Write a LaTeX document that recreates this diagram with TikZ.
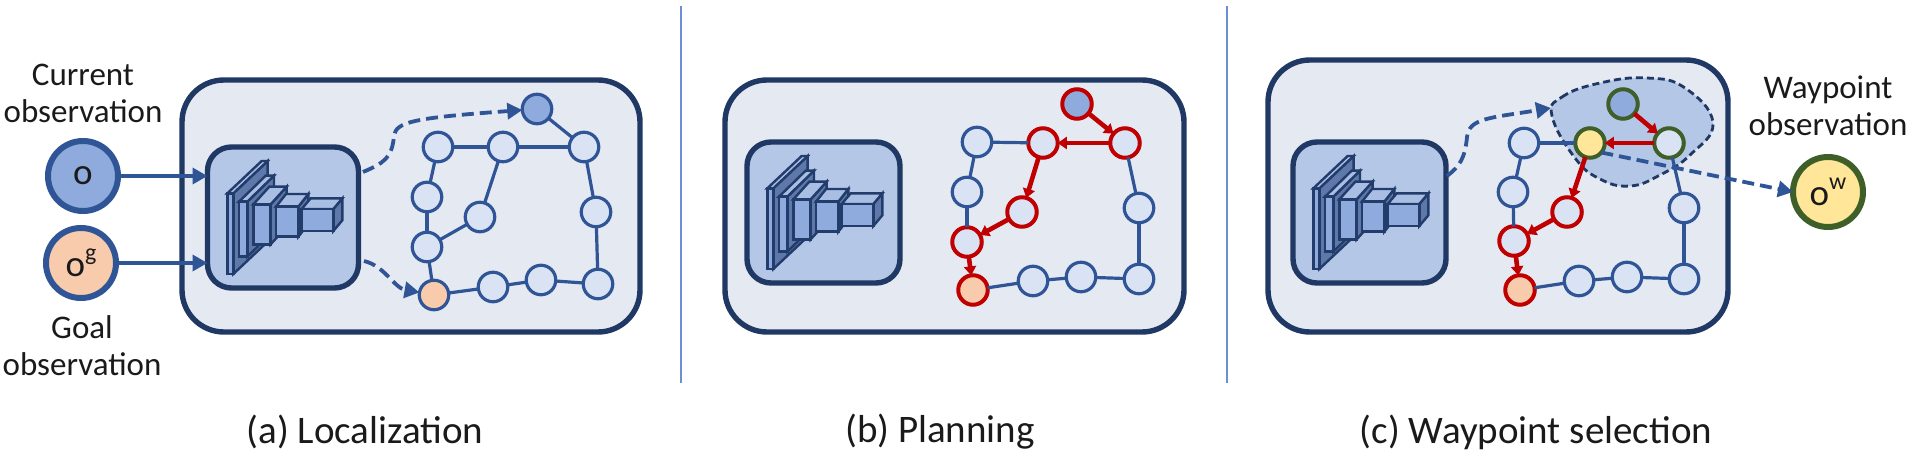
\documentclass[tikz,border=0pt]{standalone}
\usepackage{fontspec}
\setmainfont{Carlito}
\usetikzlibrary{arrows.meta}
\definecolor{navy}{HTML}{203864}
\definecolor{midblue}{HTML}{2F5597}
\definecolor{panelfill}{HTML}{E5E9F2}
\definecolor{netfill}{HTML}{B4C7E7}
\definecolor{nodefill}{HTML}{DAE3F3}
\definecolor{obsblue}{HTML}{8FAADC}
\definecolor{obsorange}{HTML}{F8CBAD}
\definecolor{obsyellow}{HTML}{FFE699}
\definecolor{redline}{HTML}{C00000}
\definecolor{greenline}{HTML}{3F5F28}
\definecolor{divider}{HTML}{6C8FD3}
\definecolor{sideface}{HTML}{5D78A9}
\definecolor{topface}{HTML}{A9BEE3}
\definecolor{textdark}{HTML}{1A1A1A}
\tikzset{
  panel/.style={draw=navy,line width=5.4pt,fill=panelfill,rounded corners=42pt,inner sep=0pt,outer sep=0pt},
  netbox/.style={draw=navy,line width=5.4pt,fill=netfill,rounded corners=24pt,inner sep=0pt,outer sep=0pt},
  gn/.style={circle,draw=midblue,line width=3.2pt,fill=nodefill,minimum size=29.5pt,inner sep=0pt,outer sep=0pt},
  rn/.style={gn,draw=redline,line width=4pt},
  gr/.style={gn,draw=greenline,line width=4pt},
  obs/.style={circle,draw=midblue,line width=6pt,minimum size=70pt,inner sep=0pt,outer sep=0pt,text=textdark,font=\fontsize{37}{37}\selectfont},
  gedge/.style={draw=midblue,line width=3.2pt},
  redge/.style={draw=redline,line width=4.6pt,-{Triangle[length=9pt,width=12pt]}},
  sarrow/.style={draw=midblue,line width=3.6pt,-{Triangle[length=15pt,width=16pt]}},
  darrow/.style={draw=midblue,line width=3.8pt,dash pattern=on 12pt off 6pt,-{Triangle[length=15pt,width=16pt]}},
  lab/.style={align=center,text=textdark,inner sep=0pt,font=\fontsize{33}{37}\selectfont},
  captext/.style={text=textdark,inner sep=0pt,font=\fontsize{39}{42}\selectfont},
  facefront/.style={draw=navy!85!midblue,line width=2.4pt,fill=obsblue},
  facetop/.style={draw=navy!85!midblue,line width=2.4pt,fill=topface},
  faceside/.style={draw=navy!85!midblue,line width=2.4pt,fill=sideface},
}
\newcommand{\cuboidicon}[6]{%
  \draw[faceside] (#1+#3,#2) -- ++(#5,#6) -- ++(0,#4) -- ++(-#5,-#6) -- cycle;
  \draw[facetop] (#1,#2) -- ++(#3,0) -- ++(#5,#6) -- ++(-#3,0) -- cycle;
  \draw[facefront] (#1,#2) rectangle ++(#3,#4);
}
\newcommand{\neticon}[2]{%
  \begin{scope}[shift={(#1,#2)},x=0.33333pt,y=-0.33333pt]
    \cuboidicon{562}{415}{18}{242}{103}{-97}
    \cuboidicon{597}{440}{25}{165}{80}{-78}
    \cuboidicon{640}{448}{52}{120}{48}{-53}
    \cuboidicon{708}{455}{67}{90}{30}{-38}
    \cuboidicon{785}{462}{95}{66}{27}{-32}
  \end{scope}%
}
\begin{document}
\begin{tikzpicture}[x=1pt,y=-1pt]
\useasboundingbox (0,0) rectangle (1920,465);
% dividers
\coordinate (d1t) at (681,6); \coordinate (d1b) at (681,383);
\coordinate (d2t) at (1227,6); \coordinate (d2b) at (1227,383);
\draw[divider,line width=2.4pt] (d1t) -- (d1b);
\draw[divider,line width=2.4pt] (d2t) -- (d2b);
% panels
\node[panel,minimum width=458pt,minimum height=252pt] (pa) at (411,206) {};
\node[panel,minimum width=459pt,minimum height=252pt] (pb) at (954.5,206) {};
\node[panel,minimum width=460pt,minimum height=272pt] (pc) at (1498,196) {};
% network boxes
\node[netbox,minimum width=151pt,minimum height=141pt] (neta) at (283,217.5) {};
\node[netbox,minimum width=153pt,minimum height=141pt] (netb) at (823.5,212.5) {};
\node[netbox,minimum width=153pt,minimum height=141pt] (netc) at (1369.5,212.5) {};
\neticon{40}{55}
\neticon{580}{50}
\neticon{1126}{50}
% observation inputs
\node[obs,fill=obsblue] (o) at (83,176) {o};
\node[obs,fill=obsorange] (og) at (81,263) {o\raisebox{0.42em}{\fontsize{24}{24}\selectfont g}};
\node[lab] (lcur) at (83,93) {Current\\observation};
\node[lab] (lgoal) at (82,346) {Goal\\observation};
\draw[sarrow] (o.east) -- (neta.west |- o.east);
\draw[sarrow] (og.east) -- (neta.west |- og.east);
% graph (a)
\node[gn,fill=obsblue] (ta) at (537,109) {};
\node[gn] (r1a) at (584,147) {};
\node[gn] (r2a) at (596,212) {};
\node[gn] (bra) at (598,284) {};
\node[gn] (g3a) at (541,280) {};
\node[gn] (g2a) at (493,287) {};
\node[gn,fill=obsorange] (goa) at (434,295) {};
\node[gn] (n5a) at (427,247) {};
\node[gn] (n3a) at (427,197) {};
\node[gn] (n4a) at (480,217) {};
\node[gn] (n1a) at (438,147) {};
\node[gn] (n2a) at (503,147) {};
\foreach \p/\q in {n1a/n2a,n2a/r1a,ta/r1a,r1a/r2a,r2a/bra,bra/g3a,g3a/g2a,g2a/goa,goa/n5a,n5a/n3a,n3a/n1a,n5a/n4a,n4a/n2a}
  \draw[gedge] (\p) -- (\q);
\coordinate (sa1) at (363,172);
\coordinate (sa2) at (364,261);
\draw[darrow] (sa1) .. controls (384,163) and (392,158) .. (394,136) .. controls (396,122) and (412,118) .. (ta);
\draw[darrow] (sa2) .. controls (385,266) and (394,288) .. (goa);
% graph (b)
\node[rn,fill=obsblue] (tb) at (1077,104) {};
\node[rn] (r1b) at (1125,143) {};
\node[gn] (r2b) at (1139,208) {};
\node[gn] (brb) at (1139,279) {};
\node[gn] (g3b) at (1081,277) {};
\node[gn] (g2b) at (1033,281) {};
\node[rn,fill=obsorange] (gob) at (973,290) {};
\node[rn] (n5b) at (967,242) {};
\node[gn] (n3b) at (967,192) {};
\node[rn] (n4b) at (1022,212) {};
\node[gn] (n1b) at (977,142) {};
\node[rn] (n2b) at (1043,143) {};
\foreach \p/\q in {n1b/n2b,r1b/r2b,r2b/brb,brb/g3b,g3b/g2b,g2b/gob,n5b/n3b,n3b/n1b}
  \draw[gedge] (\p) -- (\q);
\foreach \p/\q in {tb/r1b,r1b/n2b,n2b/n4b,n4b/n5b,n5b/gob}
  \draw[redge] (\p) -- (\q);
% graph (c)
\draw[draw=navy,line width=2.8pt,dash pattern=on 7pt off 4pt,fill=netfill]
  plot[smooth cycle,tension=0.75] coordinates {(1552,116) (1562,97) (1600,83) (1647,78) (1685,88) (1713,123) (1690,155) (1660,175) (1630,186) (1600,179) (1575,158)};
\node[gr,fill=obsblue] (tc) at (1623,104) {};
\node[gr] (r1c) at (1669,143) {};
\node[gn] (r2c) at (1684,208) {};
\node[gn] (brc) at (1684,279) {};
\node[gn] (g3c) at (1627,277) {};
\node[gn] (g2c) at (1579,281) {};
\node[rn,fill=obsorange] (goc) at (1520,290) {};
\node[rn] (n5c) at (1514,241) {};
\node[gn] (n3c) at (1513,192) {};
\node[rn] (n4c) at (1567,212) {};
\node[gn] (n1c) at (1524,143) {};
\node[gr,fill=obsyellow] (n2c) at (1590,143) {};
\foreach \p/\q in {n1c/n2c,r1c/r2c,r2c/brc,brc/g3c,g3c/g2c,g2c/goc,n5c/n3c,n3c/n1c}
  \draw[gedge] (\p) -- (\q);
\foreach \p/\q in {tc/r1c,r1c/n2c,n2c/n4c,n4c/n5c,n5c/goc}
  \draw[redge] (\p) -- (\q);
\node[obs,draw=greenline,fill=obsyellow] (ow) at (1828,192) {o\raisebox{0.42em}{\fontsize{24}{24}\selectfont w}};
\node[lab] (lway) at (1828,106) {Waypoint\\observation};
\coordinate (sc1) at (1447,176);
\coordinate (bl) at (1551,108);
\draw[darrow] (sc1) .. controls (1460,166) and (1465,158) .. (1467,137) .. controls (1469,118) and (1490,118) .. (bl);
\draw[darrow] (n2c.-40) -- (ow.west);
% captions
\node[captext] (ca) at (365,432) {(a) Localization};
\node[captext] (cb) at (940,432) {(b) Planning};
\node[captext] (cc) at (1536,432) {(c) Waypoint selection};
\end{tikzpicture}
\end{document}
